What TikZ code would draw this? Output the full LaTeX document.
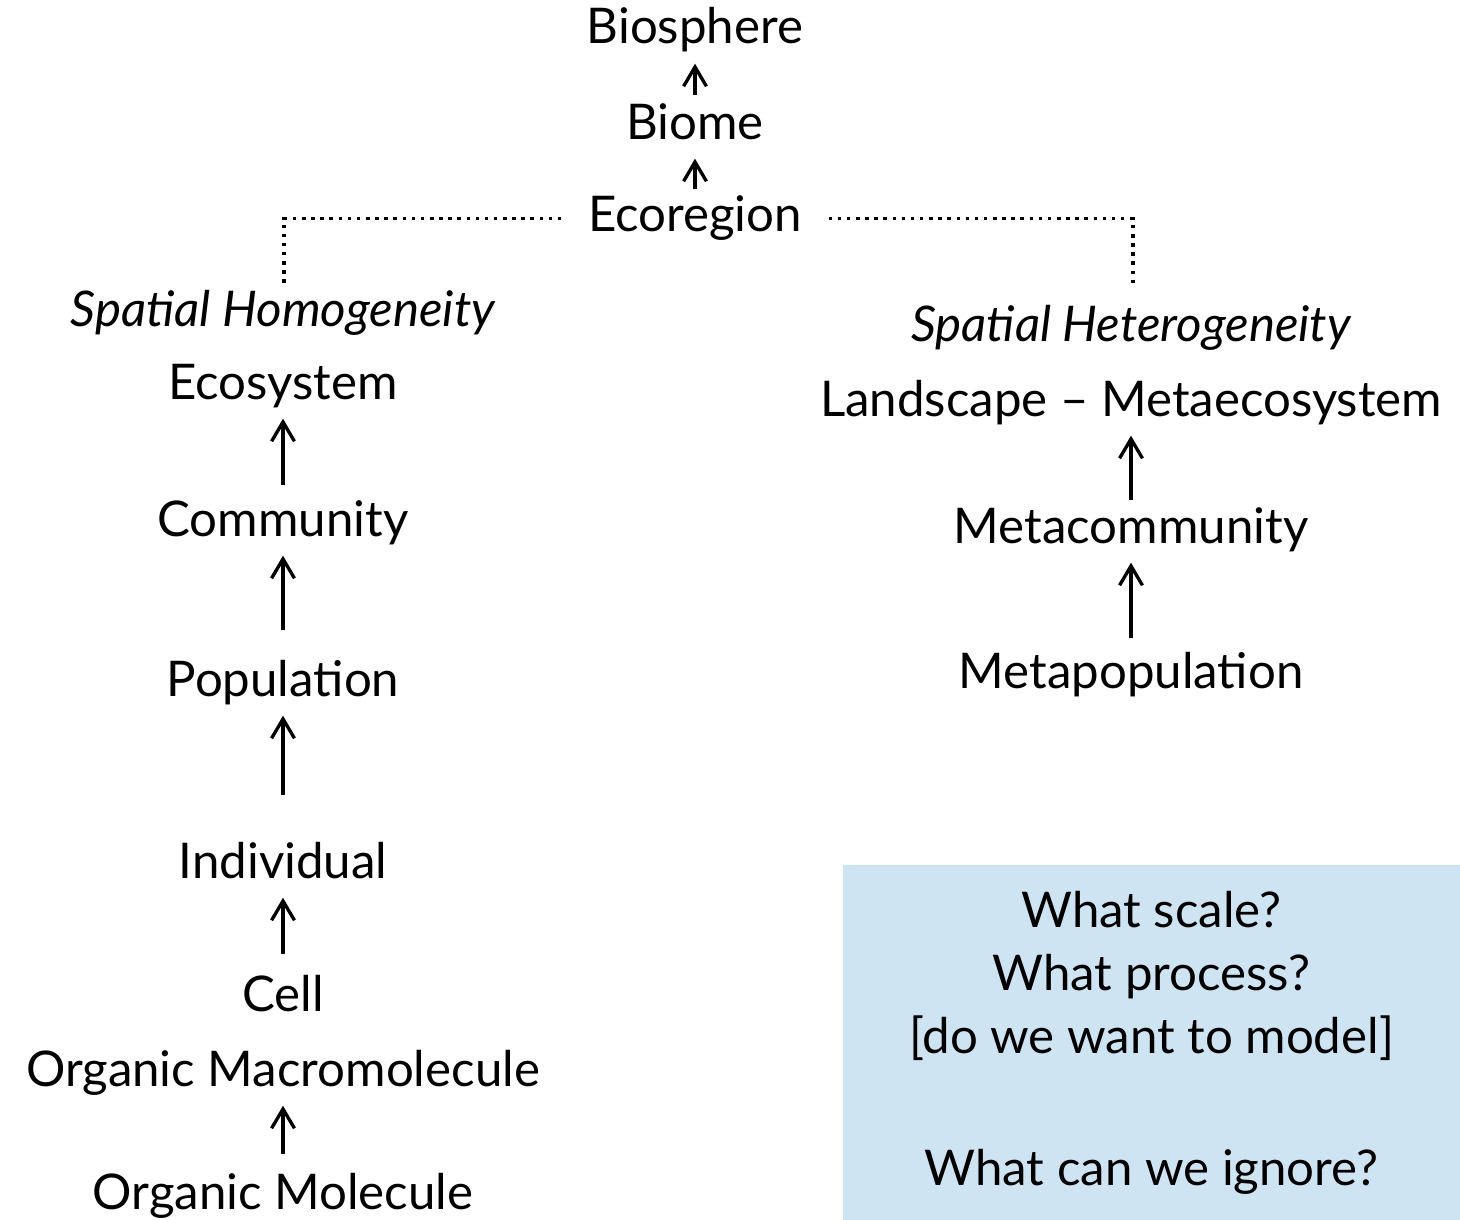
\documentclass[tikz,border=0pt]{standalone}
\usepackage{fontspec}
\setmainfont{Lato}
\definecolor{AskBlue}{RGB}{207,228,242}
\usetikzlibrary{arrows.meta}

\begin{document}
\begin{tikzpicture}[x=0.02cm, y=-0.02cm,
    lvl/.style={anchor=base, inner sep=0pt, text height=20pt, text depth=6pt, font=\fontsize{28}{33}\selectfont},
    up/.style={line width=1.9pt, -{Straight Barb[length=11pt, width=13pt]}, shorten >=5pt},
    dots/.style={line width=2pt, dash pattern=on 2pt off 3.2pt, shorten <=15pt}]
        \useasboundingbox (0,0) rectangle (1460,1220);
        \node[lvl] (Bs) at (695,44) {Biosphere};
        \node[lvl] (Bm) at (695,139) {Biome};
        \node[lvl] (Er) at (695,231) {Ecoregion};
        \coordinate (hl) at (284,285);
        \coordinate (hr) at (1133,285);
        \node[lvl, font=\fontsize{28}{33}\selectfont\itshape] (SHo) at (283,326) {Spatial Homogeneity};
        \node[lvl] (Es) at (283,399) {Ecosystem};
        \node[lvl] (Cm) at (283,536) {Community};
        \node[lvl] (Pp) at (283,696) {Population};
        \node[lvl] (In) at (283,878) {Individual};
        \node[lvl] (Ce) at (283,1011) {Cell};
        \node[lvl] (OM) at (283,1086) {Organic Macromolecule};
        \node[lvl] (Om) at (283,1209) {Organic Molecule};
        \node[lvl, font=\fontsize{28}{33}\selectfont\itshape] (SHe) at (1131,341) {Spatial Heterogeneity};
        \node[lvl] (LM) at (1131,416) {Landscape – Metaecosystem};
        \node[lvl] (MC) at (1131,543) {Metacommunity};
        \node[lvl] (MP) at (1131,688) {Metapopulation};
        \node[fill=AskBlue, minimum width=12.34cm, minimum height=7.1cm, inner sep=0pt, align=center, font=\fontsize{28}{36}\selectfont] (Q) at (1151.5,1042.5)
            {What scale?\\What process?\\{[}do we want to model{]}\\[39pt]What can we ignore?};
        \draw[up, shorten <=5pt] (Bm) -- (Bs);
        \draw[up, shorten <=3.5pt] (Er) -- (Bm);
        \draw[dots] (Er.west) -| (hl);
        \draw[dots] (Er.east) -| (hr);
        \draw[up, shorten <=9pt] (Cm) -- (Es);
        \draw[up, shorten <=17.5pt] (Pp) -- (Cm);
        \draw[up, shorten <=27pt] (In) -- (Pp);
        \draw[up, shorten <=12pt] (Ce) -- (In);
        \draw[up, shorten <=11pt] (Om) -- (OM);
        \draw[up, shorten <=4.5pt] (MC) -- (LM);
        \draw[up, shorten <=8.5pt] (MP) -- (MC);
    \end{tikzpicture}
\end{document}
